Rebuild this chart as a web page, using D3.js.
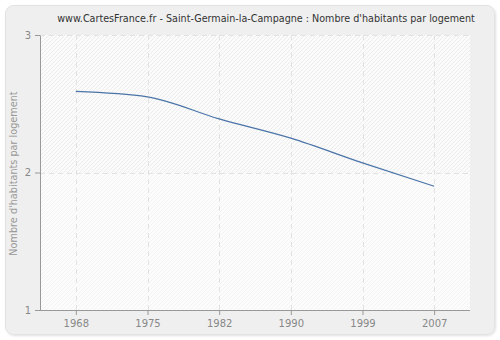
<!DOCTYPE html>
<html><head><meta charset="utf-8">
<script src="https://cdn.jsdelivr.net/npm/d3@7"></script>
<style>body{margin:0;background:#fff}svg{display:block}</style>
</head><body>
<svg id="c" width="500" height="340"></svg>
<script>
const years = ["1968","1975","1982","1990","1999","2007"];
const values = [2.59, 2.55, 2.39, 2.25, 2.07, 1.90];
const yTicks = [1, 2, 3];
const title = "www.CartesFrance.fr - Saint-Germain-la-Campagne : Nombre d'habitants par logement";
const yLabel = "Nombre d'habitants par logement";

const svg = d3.select("#c");
const font = "DejaVu Sans, Verdana, sans-serif";
const m = {l:40, r:470, t:35, b:310};

const defs = svg.append("defs");
const f = defs.append("filter").attr("id","sh").attr("x","-5%").attr("y","-5%").attr("width","110%").attr("height","110%");
f.append("feDropShadow").attr("dx",1).attr("dy",1).attr("stdDeviation",1.2).attr("flood-color","#000").attr("flood-opacity",0.12);
const p1 = defs.append("pattern").attr("id","h1").attr("patternUnits","userSpaceOnUse").attr("width",4).attr("height",4);
p1.append("rect").attr("width",4).attr("height",4).attr("fill","#fbfbfb");
p1.append("path").attr("d","M-1,1 l2,-2 M0,4 l4,-4 M3,5 l2,-2").attr("stroke","#ececec").attr("stroke-width",1);
const p2 = defs.append("pattern").attr("id","h2").attr("patternUnits","userSpaceOnUse").attr("width",4).attr("height",4);
p2.append("rect").attr("width",4).attr("height",4).attr("fill","#fcfcfc");
p2.append("path").attr("d","M-1,1 l2,-2 M0,4 l4,-4 M3,5 l2,-2").attr("stroke","#f3f3f3").attr("stroke-width",1);

svg.append("rect").attr("x",5.5).attr("y",5.5).attr("width",489).attr("height",329).attr("rx",8)
  .attr("fill","#efefef").attr("stroke","#e2e2e2").attr("filter","url(#sh)");

const x = d3.scalePoint().domain(years).range([m.l, m.r]).padding(0.5);
const y = d3.scaleLinear().domain([1,3]).range([m.b, m.t]);

svg.append("rect").attr("x",m.l).attr("y",m.t).attr("width",m.r-m.l).attr("height",y(2)-m.t).attr("fill","url(#h1)");
svg.append("rect").attr("x",m.l).attr("y",y(2)).attr("width",m.r-m.l).attr("height",m.b-y(2)).attr("fill","url(#h2)");

// grid
const g = svg.append("g");
g.selectAll("line.v").data(years).join("line")
  .attr("x1",d=>Math.round(x(d))+0.5).attr("x2",d=>Math.round(x(d))+0.5)
  .attr("y1",m.t).attr("y2",m.b)
  .attr("stroke","#e2e2e2").attr("stroke-dasharray","5,4");
g.selectAll("line.h").data(yTicks.slice(1)).join("line")
  .attr("x1",m.l).attr("x2",m.r)
  .attr("y1",d=>Math.round(y(d))+0.5).attr("y2",d=>Math.round(y(d))+0.5)
  .attr("stroke","#e2e2e2").attr("stroke-dasharray","5,4");

// axes
const xa = svg.append("g").attr("transform",`translate(0,${m.b})`)
  .call(d3.axisBottom(x).tickSize(5).tickPadding(5).tickSizeOuter(0));
const ya = svg.append("g").attr("transform",`translate(${m.l},0)`)
  .call(d3.axisLeft(y).tickValues(yTicks).tickFormat(d3.format("d")).tickSize(5).tickPadding(4).tickSizeOuter(0));
[xa,ya].forEach(a=>{
  a.select(".domain").attr("stroke","#999");
  a.selectAll(".tick line").attr("stroke","#999");
  a.selectAll("text").attr("fill","#888").attr("font-family",font).attr("font-size",10);
});
xa.select(".domain").attr("d",`M${m.l},0.5H${m.r}`);

// line
svg.append("path").datum(values)
  .attr("fill","none").attr("stroke","#4a74a8").attr("stroke-width",1.2)
  .attr("d", d3.line().x((d,i)=>x(years[i])).y(d=>y(d)).curve(d3.curveMonotoneX));

svg.append("text").attr("x",266).attr("y",22).attr("text-anchor","middle")
  .attr("font-family",font).attr("font-size",9.6).attr("fill","#333").text(title);
svg.append("text").attr("transform",`translate(17,${(m.t+m.b)/2 + 1}) rotate(-90)`)
  .attr("text-anchor","middle").attr("font-family",font).attr("font-size",9.7).attr("fill","#999").text(yLabel);
</script>
</body></html>
